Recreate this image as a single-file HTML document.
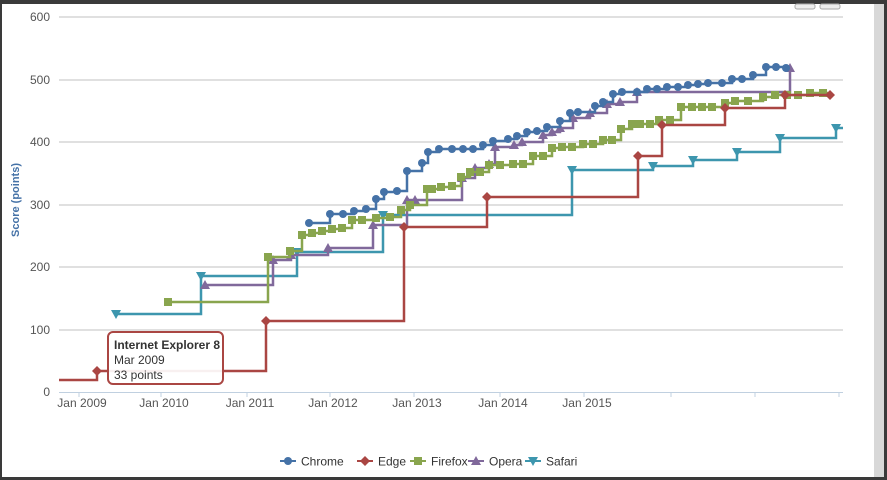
<!DOCTYPE html>
<html><head><meta charset="utf-8"><style>
html,body{margin:0;padding:0;background:#fff;}
body{width:887px;height:480px;overflow:hidden;position:relative;font-family:"Liberation Sans",sans-serif;}
</style></head><body>
<svg id="s" width="887" height="480" xmlns="http://www.w3.org/2000/svg" style="position:absolute;left:0;top:0"></svg>
<script>
var h='';
h+='<rect x="0" y="0" width="887" height="480" fill="#fff"/>';
// grid
var ys=[[600,17],[500,80],[400,142],[300,205],[200,267],[100,330]];
ys.forEach(function(a){h+='<line x1="59" x2="843" y1="'+a[1]+'" y2="'+a[1]+'" stroke="#c0c0c0" stroke-width="1"/>';
h+='<text x="50" y="'+(a[1]+4)+'" text-anchor="end" font-size="12" fill="#555">'+a[0]+'</text>';});
h+='<text x="50" y="396" text-anchor="end" font-size="12" fill="#555">0</text>';
h+='<line x1="59" x2="843" y1="392.5" y2="392.5" stroke="#c0d0e0" stroke-width="1"/>';
var xl=[["Jan 2009",82],["Jan 2010",164],["Jan 2011",250],["Jan 2012",333],["Jan 2013",417],["Jan 2014",503],["Jan 2015",587]];
xl.forEach(function(a){h+='<line x1="'+(a[1]-3)+'" x2="'+(a[1]-3)+'" y1="392" y2="397" stroke="#c0d0e0"/>';
h+='<text x="'+a[1]+'" y="407" text-anchor="middle" font-size="12" fill="#555">'+a[0]+'</text>';});
h+='<line x1="671" x2="671" y1="392" y2="397" stroke="#c0d0e0"/><line x1="755" x2="755" y1="392" y2="397" stroke="#c0d0e0"/><line x1="839" x2="839" y1="392" y2="397" stroke="#c0d0e0"/>';
h+='<text transform="translate(19,200) rotate(-90)" text-anchor="middle" font-size="11" font-weight="bold" fill="#4572A7">Score (points)</text>';
function mark(t,x,y,c){
 if(t=='c')return '<circle cx="'+x+'" cy="'+y+'" r="4" fill="'+c+'"/>';
 if(t=='d')return '<path d="M'+x+' '+(y-5)+'L'+(x+5)+' '+y+'L'+x+' '+(y+5)+'L'+(x-5)+' '+y+'Z" fill="'+c+'"/>';
 if(t=='s')return '<rect x="'+(x-4)+'" y="'+(y-4)+'" width="8" height="8" fill="'+c+'"/>';
 if(t=='t')return '<path d="M'+x+' '+(y-5)+'L'+(x+5)+' '+(y+4)+'L'+(x-5)+' '+(y+4)+'Z" fill="'+c+'"/>';
 if(t=='v')return '<path d="M'+x+' '+(y+5)+'L'+(x+5)+' '+(y-4)+'L'+(x-5)+' '+(y-4)+'Z" fill="'+c+'"/>';
}
function series(pts,c,t,end,start){
 var d='',m='';
 if(start){d='M'+start[0]+' '+start[1]+' H'+pts[0][0]+' V'+pts[0][1];}else d='M'+pts[0][0]+' '+pts[0][1];
 for(var i=1;i<pts.length;i++){d+=' H'+pts[i][0]+' V'+pts[i][1];}
 if(end)d+=' H'+end;
 h+='<path d="'+d+'" fill="none" stroke="'+c+'" stroke-width="2.5"/>';
 pts.forEach(function(p){h+=mark(t,p[0],p[1],c);});
}
var safari=[[116,314],[201,276],[297,252],[383,215],[572,170],[653,166],[693,160],[737,152],[780,138],[836,128]];
series(safari,'#3D96AE','v',843);
var opera=[[205,285],[273,260],[291,255],[328,248],[373,225],[407,200],[415,200],[462,178],[475,168],[489,164],[495,147],[514,145],[522,142],[543,135],[552,132],[560,128],[573,118],[590,113],[607,104],[620,102],[637,92],[790,68]];
series(opera,'#80699B','t');
var ff=[[168,302],[268,257],[290,251],[302,235],[312,233],[322,231],[332,229],[342,228],[352,220],[362,220],[376,218],[390,217],[401,210],[410,205],[427,189],[432,189],[441,187],[452,186],[461,177],[470,172],[480,172],[489,165],[500,165],[513,164],[523,164],[533,156],[543,156],[552,148],[562,147],[572,147],[583,144],[593,144],[603,140],[612,140],[621,129],[632,124],[640,124],[650,124],[659,120],[670,120],[681,107],[692,107],[702,107],[712,107],[725,103],[735,101],[748,101],[763,97],[775,95],[787,95],[798,95],[810,93],[823,93]];
series(ff,'#89A54E','s',828);
var edge=[[97,371],[266,321],[404,227],[487,197],[638,156],[662,125],[725,108],[785,95],[830,95]];
series(edge,'#AA4643','d',null,[59,380]);
var ch=[[309,223],[330,214],[343,214],[354,211],[366,209],[376,199],[384,192],[397,191],[407,171],[422,163],[428,152],[439,149],[452,149],[463,149],[473,149],[483,145],[493,141],[508,139],[517,136],[527,132],[537,131],[547,127],[560,121],[570,113],[578,112],[595,106],[603,102],[613,94],[622,92],[637,92],[647,89],[657,89],[667,87],[678,87],[688,85],[698,84],[708,83],[722,83],[732,79],[742,79],[753,75],[766,67],[776,67],[786,68]];
series(ch,'#4572A7','c');
// tooltip
h+='<rect x="108" y="332" width="115" height="52" rx="5" fill="#fff" fill-opacity="0.92" stroke="#AA4643" stroke-width="2"/>';
h+='<text x="114" y="349" font-size="12" font-weight="bold" fill="#333">Internet Explorer 8</text>';
h+='<text x="114" y="364" font-size="12" fill="#333">Mar 2009</text>';
h+='<text x="114" y="379" font-size="12" fill="#333">33 points</text>';
// legend
var lg=[['Chrome',280,'#4572A7','c'],['Edge',357,'#AA4643','d'],['Firefox',410,'#89A54E','s'],['Opera',468,'#80699B','t'],['Safari',525,'#3D96AE','v']];
lg.forEach(function(l){h+='<line x1="'+l[1]+'" x2="'+(l[1]+16)+'" y1="461" y2="461" stroke="'+l[2]+'" stroke-width="2"/>'+mark(l[3],l[1]+8,461,l[2]);
h+='<text x="'+(l[1]+21)+'" y="465.5" font-size="12" fill="#333">'+l[0]+'</text>';});
// frame
h+='<rect x="0" y="0" width="887" height="4" fill="#3a3a3a"/>';
h+='<rect x="0" y="0" width="2" height="480" fill="#3a3a3a"/>';
h+='<rect x="0" y="477" width="887" height="3" fill="#3a3a3a"/>';
h+='<rect x="874" y="4" width="10" height="473" fill="#d8d8d8"/>';
h+='<rect x="884" y="0" width="3" height="480" fill="#3a3a3a"/>';
h+='<rect x="795" y="4" width="20" height="5" rx="2" fill="#eee" stroke="#aaa"/><rect x="820" y="4" width="20" height="5" rx="2" fill="#eee" stroke="#aaa"/>';
document.getElementById('s').innerHTML=h;
</script>
</body></html>
